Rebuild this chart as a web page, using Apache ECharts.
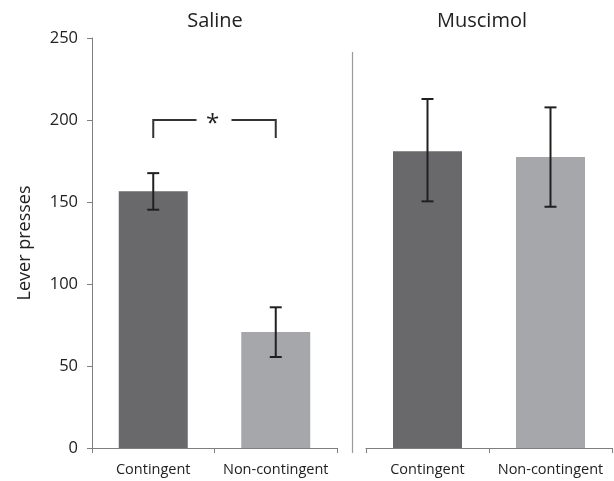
<!DOCTYPE html>
<html>
<head>
<meta charset="utf-8">
<script src="https://cdn.jsdelivr.net/npm/echarts@6/dist/echarts.min.js"></script>
<style>
html,body{margin:0;padding:0;background:#fff;}
#chart{width:614px;height:481px;}
</style>
</head>
<body>
<div id="chart"></div>
<script>
// ---- data ----
const categories = ['Contingent', 'Non-contingent'];
const panelTitles = ['Saline', 'Muscimol'];
const salineMeans = [156.5, 70.7];
const salineErrLow = [145.3, 55.5];
const salineErrHigh = [167.6, 85.8];
const muscimolMeans = [181.0, 177.4];
const muscimolErrLow = [150.4, 147.1];
const muscimolErrHigh = [212.8, 207.7];
const yTicks = [0, 50, 100, 150, 200, 250];
const sigBracket = [0, 1, 200, 189]; // from cat, to cat, top value, leg bottom value
const sigLabel = '*';
const barColors = ['#69696b', '#a6a7aa'];

const FONT = '"Open Sans", "DejaVu Sans", sans-serif';
const axisGray = '#7f7f7f';
const errColor = '#231f20';

function barData(means) {
  return means.map((v, i) => ({ value: v, itemStyle: { color: barColors[i] } }));
}
function errData(lo, hi) {
  return lo.map((l, i) => [i, l, hi[i]]);
}
function errRender(params, api) {
  const x = api.value(0);
  const top = api.coord([x, api.value(2)]);
  const bot = api.coord([x, api.value(1)]);
  const hw = 6;
  const style = { stroke: errColor, lineWidth: 2, fill: null };
  return {
    type: 'group',
    children: [
      { type: 'line', shape: { x1: top[0], y1: top[1], x2: bot[0], y2: bot[1] }, style },
      { type: 'line', shape: { x1: top[0] - hw, y1: top[1], x2: top[0] + hw, y2: top[1] }, style },
      { type: 'line', shape: { x1: bot[0] - hw, y1: bot[1], x2: bot[0] + hw, y2: bot[1] }, style }
    ]
  };
}
function bracketRender(params, api) {
  const a = api.coord([api.value(0), api.value(2)]);
  const b = api.coord([api.value(1), api.value(2)]);
  const yb = api.coord([api.value(0), api.value(3)])[1];
  const mid = (a[0] + b[0]) / 2;
  const style = { stroke: '#333', lineWidth: 2, fill: null };
  return {
    type: 'group',
    children: [
      { type: 'polyline', shape: { points: [[a[0], yb], [a[0], a[1]], [mid - 18, a[1]]] }, style },
      { type: 'polyline', shape: { points: [[mid + 17, b[1]], [b[0], b[1]], [b[0], yb]] }, style },
      { type: 'text', style: { text: sigLabel, x: mid - 2, y: a[1] + 4, align: 'center', verticalAlign: 'middle', font: '24px ' + FONT, fill: '#222' } }
    ]
  };
}

const xAxisCommon = {
  type: 'category',
  data: categories,
  axisLine: { show: true, lineStyle: { color: axisGray, width: 1 } },
  axisTick: { show: true, length: 5, inside: false, alignWithLabel: false, lineStyle: { color: axisGray } },
  axisLabel: { fontSize: 14.5, color: '#222', fontFamily: FONT, margin: 14, interval: 0 },
  splitLine: { show: false }
};

const option = {
  animation: false,
  backgroundColor: '#fff',
  title: [
    { text: panelTitles[0], left: 210, top: 6, textAlign: 'center', textStyle: { fontSize: 20, fontWeight: 'normal', color: '#222', fontFamily: FONT } },
    { text: panelTitles[1], left: 477, top: 6, textAlign: 'center', textStyle: { fontSize: 20, fontWeight: 'normal', color: '#222', fontFamily: FONT } }
  ],
  grid: [
    { left: 92, right: 277, top: 38, bottom: 33, containLabel: false },
    { left: 366, right: 2, top: 38, bottom: 33, containLabel: false }
  ],
  xAxis: [
    Object.assign({ gridIndex: 0 }, xAxisCommon),
    Object.assign({ gridIndex: 1 }, xAxisCommon)
  ],
  yAxis: [
    {
      gridIndex: 0, type: 'value', min: yTicks[0], max: yTicks[yTicks.length - 1], interval: yTicks[1] - yTicks[0],
      name: 'Lever presses', nameLocation: 'middle', nameGap: 58, nameRotate: 90,
      nameTextStyle: { fontSize: 18, color: '#222', fontFamily: FONT },
      axisLine: { show: true, lineStyle: { color: axisGray, width: 1 } },
      axisTick: { show: true, length: 5, inside: false, lineStyle: { color: axisGray } },
      axisLabel: { fontSize: 16.5, color: '#222', fontFamily: FONT, margin: 14 },
      splitLine: { show: false }
    },
    {
      gridIndex: 1, type: 'value', min: yTicks[0], max: yTicks[yTicks.length - 1], interval: yTicks[1] - yTicks[0],
      axisLine: { show: false }, axisTick: { show: false }, axisLabel: { show: false }, splitLine: { show: false }
    }
  ],
  graphic: [
    { type: 'line', shape: { x1: 352.5, y1: 52, x2: 352.5, y2: 453 }, style: { stroke: '#9a9a9a', lineWidth: 1.2 } }
  ],
  series: [
    { type: 'bar', xAxisIndex: 0, yAxisIndex: 0, data: barData(salineMeans), barWidth: 69 },
    { type: 'bar', xAxisIndex: 1, yAxisIndex: 1, data: barData(muscimolMeans), barWidth: 69 },
    { type: 'custom', xAxisIndex: 0, yAxisIndex: 0, data: errData(salineErrLow, salineErrHigh), renderItem: errRender, z: 10 },
    { type: 'custom', xAxisIndex: 1, yAxisIndex: 1, data: errData(muscimolErrLow, muscimolErrHigh), renderItem: errRender, z: 10 },
    { type: 'custom', xAxisIndex: 0, yAxisIndex: 0, data: [sigBracket], renderItem: bracketRender, z: 10 }
  ]
};

const chart = echarts.init(document.getElementById('chart'), null, { renderer: 'canvas' });
chart.setOption(option);
</script>
</body>
</html>
